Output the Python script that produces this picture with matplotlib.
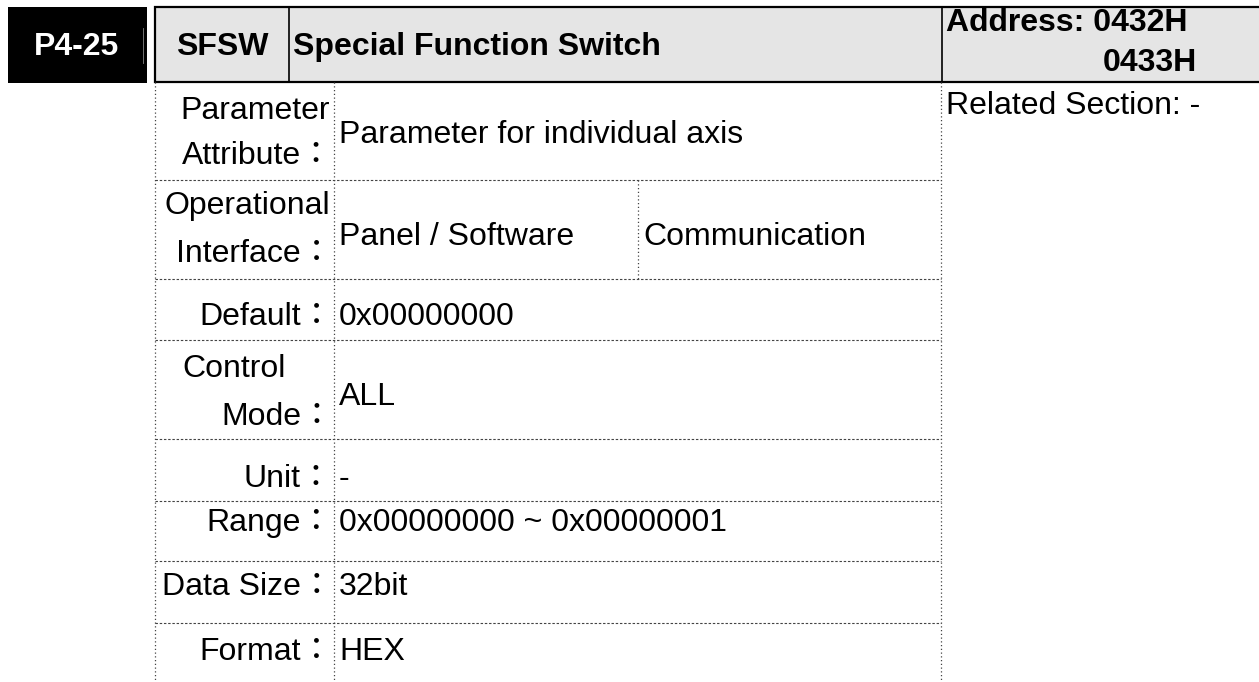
import matplotlib
matplotlib.use("Agg")
import matplotlib.pyplot as plt
from matplotlib.patches import Rectangle

# ---- content ----
param_code = "P4-25"
param_abbr = "SFSW"
param_name = "Special Function Switch"
address_lines = ["Address: 0432H", "0433H"]
related_text = "Related Section: -"

row_labels = [
    ["Parameter", "Attribute："],
    ["Operational", "Interface："],
    ["Default："],
    ["Control", "Mode："],
    ["Unit："],
    ["Range："],
    ["Data Size："],
    ["Format："],
]
row_values = [
    "Parameter for individual axis",
    "Panel / Software",
    "0x00000000",
    "ALL",
    "-",
    "0x00000000 ~ 0x00000001",
    "32bit",
    "HEX",
]
extra_value = "Communication"

# ---- layout (pixels) ----
W, H = 1259, 682
row_edges = [82, 180, 279, 340, 439, 501, 561, 623, 682]
x_left, x_mid, x_comm, x_right = 155, 334, 638, 941
label_right_plain = 330
label_right_colon = 333
value_left = 339
label_baselines = [[119, 164], [214, 262], [325], [377, 425], [487], [531], [595], [660]]
value_baselines = [143, 245, 325, 405, 487, 531, 595, 660]

FS = 23
fam = ["Liberation Sans", "Noto Sans CJK TC", "DejaVu Sans"]

fig = plt.figure(figsize=(W / 100, H / 100), dpi=100)
ax = fig.add_axes([0, 0, 1, 1])
ax.set_xlim(0, W)
ax.set_ylim(H, 0)
ax.axis("off")

# black code box
ax.add_patch(Rectangle((8, 7), 139, 76, facecolor="black", edgecolor="none"))
ax.plot([143, 143], [28, 63], color="#888888", lw=0.6)
ax.text(77, 55, param_code, color="white", fontsize=FS, fontweight="bold",
        family=fam, ha="center", va="baseline")

# header grey box
ax.add_patch(Rectangle((155, 7), W - 155 + 5, 75, facecolor="#e5e5e5",
                       edgecolor="black", lw=1.6))
ax.plot([289, 289], [7, 82], color="black", lw=1.2)
ax.plot([942, 942], [7, 82], color="black", lw=1.2)
ax.text(222, 55, param_abbr, fontsize=FS, fontweight="bold", family=fam,
        ha="center", va="baseline")
ax.text(293, 55, param_name, fontsize=FS, fontweight="bold", family=fam,
        ha="left", va="baseline")
ax.text(946, 31, address_lines[0], fontsize=FS, fontweight="bold", family=fam,
        ha="left", va="baseline")
ax.text(1197, 71, address_lines[1], fontsize=FS, fontweight="bold", family=fam,
        ha="right", va="baseline")

# grid lines
dash_h = dict(color="#444444", lw=0.8, linestyle=(0, (2.2, 1.6)))
dot_v = dict(color="#444444", lw=0.9, linestyle=(0, (1, 2.0)))
for y in row_edges[1:-1]:
    ax.plot([x_left, x_right], [y, y], **dash_h)
for x in (x_left, x_mid, x_right):
    ax.plot([x, x], [row_edges[0], H], **dot_v)
ax.plot([x_comm, x_comm], [row_edges[1], row_edges[2]], **dot_v)

# labels
for i, lines in enumerate(row_labels):
    for j, line in enumerate(lines):
        if line == "Control":
            ax.text(182, label_baselines[i][j], line, fontsize=FS, family=fam,
                    ha="left", va="baseline")
        else:
            xr = label_right_colon if line.endswith("：") else label_right_plain
            ax.text(xr, label_baselines[i][j], line, fontsize=FS,
                    family=fam, ha="right", va="baseline")

# values
for i, v in enumerate(row_values):
    ax.text(value_left, value_baselines[i], v, fontsize=FS, family=fam,
            ha="left", va="baseline")
ax.text(643, value_baselines[1], extra_value, fontsize=FS, family=fam,
        ha="left", va="baseline")

ax.text(946, 114, related_text, fontsize=FS, family=fam, ha="left", va="baseline")

fig.savefig("out.png", dpi=100)
